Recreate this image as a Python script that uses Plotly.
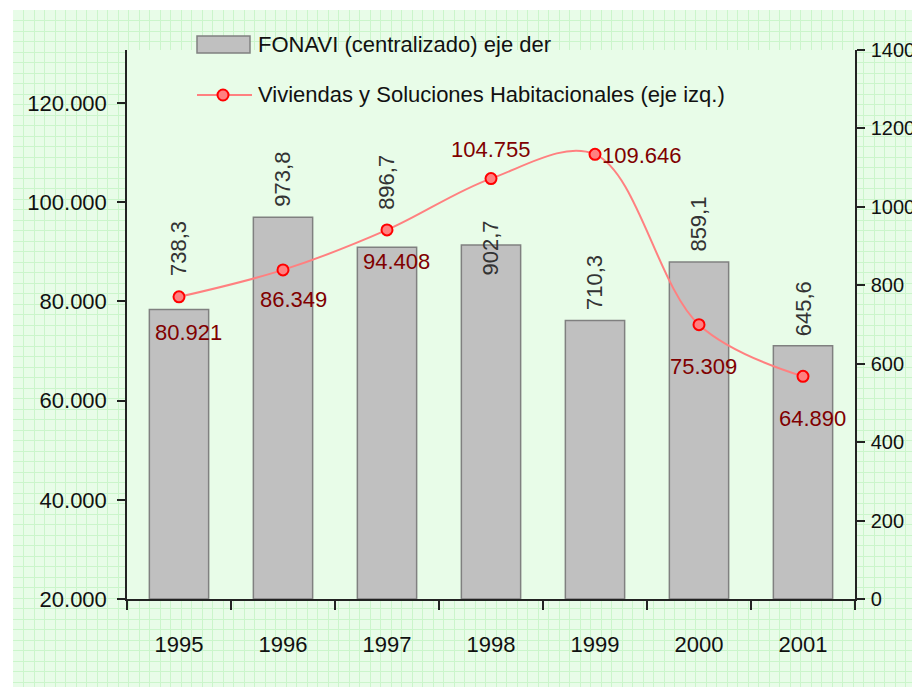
import plotly.graph_objects as go

# ---------------- data ----------------
years = ["1995", "1996", "1997", "1998", "1999", "2000", "2001"]
fonavi = [738.3, 973.8, 896.7, 902.7, 710.3, 859.1, 645.6]          # right axis (bars)
viviendas = [80921, 86349, 94408, 104755, 109646, 75309, 64890]    # left axis (line)
left_ticks = [20000, 40000, 60000, 80000, 100000, 120000]
right_ticks = [0, 200, 400, 600, 800, 1000, 1200, 1400]
legend_bar = "FONAVI (centralizado) eje der"
legend_line = "Viviendas y Soluciones Habitacionales (eje izq.)"

# ---------------- style ----------------
FONT = "Liberation Sans"
FS = 22
W, H = 920, 687
OFF = 8                      # page body margin offset
ML, MT = 13 - OFF, 10 - OFF
PW, PH = W - ML, H - MT
BG = "#E8FCE8"
GRID = "#CBF5CB"
BAR_FILL = "#C0C0C0"
BAR_LINE = "#808080"
LINE_C = "#FF8080"
MARK_LINE = "#FF0000"
LBL_RED = "#800000"

def px(x):
    # screen x -> paper fraction
    return (x - OFF - ML) / PW

def py(y):
    # screen y -> paper fraction
    return (H - (y - OFF)) / PH

x_dom = [px(127), px(855)]
y_dom = [py(599), py(50)]

# label offsets (pixels)
bar_lbl_shift = [31, 8, 35, -33, 8, 8, 7]
line_lbl_dx = [9, 10, 9, 0, 5, 4, 9]
line_lbl_dy = [-36, -30, -32, 29, -1, -42, -42]
line_lbl_xanchor = ["center", "center", "center", "center", "left", "center", "center"]

fig = go.Figure()

# empty trace so the background grid subplot exists (drawn first, underneath)
fig.add_trace(go.Scatter(x=[], y=[], xaxis="x", yaxis="y", showlegend=False, hoverinfo="skip"))

# bars on right axis (y2 base), line on left axis (y3 overlay, drawn on top)
fig.add_trace(go.Bar(
    x=years, y=fonavi, xaxis="x2", yaxis="y2",
    width=0.57,
    marker=dict(color=BAR_FILL, line=dict(color=BAR_LINE, width=1.5)),
    name=legend_bar, showlegend=False, hoverinfo="x+y",
))
fig.add_trace(go.Scatter(
    x=years, y=viviendas, xaxis="x2", yaxis="y3",
    mode="lines+markers",
    line=dict(color=LINE_C, width=2, shape="spline", smoothing=1),
    marker=dict(size=11, color=LINE_C, line=dict(color=MARK_LINE, width=2)),
    name=legend_line, showlegend=False,
))

annotations = []
for i, v in enumerate(fonavi):
    annotations.append(dict(
        x=i, y=v, xref="x2", yref="y2",
        text=f"{v:.1f}".replace(".", ","),
        textangle=-90, showarrow=False,
        xanchor="center", yanchor="bottom", yshift=bar_lbl_shift[i],
        font=dict(family=FONT, size=FS, color="#333333"),
    ))
for i, v in enumerate(viviendas):
    annotations.append(dict(
        x=i, y=v, xref="x2", yref="y3",
        text=f"{v:,}".replace(",", "."),
        showarrow=False,
        xanchor=line_lbl_xanchor[i], yanchor="middle",
        xshift=line_lbl_dx[i], yshift=line_lbl_dy[i],
        font=dict(family=FONT, size=FS, color=LBL_RED),
    ))
# legend texts
annotations.append(dict(x=px(256), y=py(44), xref="paper", yref="paper", text=legend_bar,
                        showarrow=False, xanchor="left", yanchor="middle",
                        font=dict(family=FONT, size=FS, color="#111111")))
annotations.append(dict(x=px(256), y=py(94), xref="paper", yref="paper", text=legend_line,
                        showarrow=False, xanchor="left", yanchor="middle",
                        font=dict(family=FONT, size=FS, color="#111111")))

shapes = [
    dict(type="rect", xref="paper", yref="paper", x0=px(197), x1=px(250), y0=py(53), y1=py(36),
         fillcolor=BAR_FILL, line=dict(color=BAR_LINE, width=1.5), layer="above"),
    dict(type="line", xref="paper", yref="paper", x0=px(197), x1=px(252), y0=py(95), y1=py(95),
         line=dict(color=LINE_C, width=2), layer="above"),
    dict(type="circle", xref="paper", yref="paper", x0=px(217.5), x1=px(228.5), y0=py(100.5), y1=py(89.5),
         fillcolor=LINE_C, line=dict(color=MARK_LINE, width=2), layer="above"),
]

fig.update_layout(
    width=W, height=H,
    margin=dict(l=ML, r=0, t=MT, b=0, pad=0, autoexpand=False),
    paper_bgcolor="white",
    plot_bgcolor=BG,
    separators=",.",
    font=dict(family=FONT, size=FS, color="#111111"),
    showlegend=False,
    # background grid subplot (screen pixel coordinates)
    xaxis=dict(domain=[0, 1], anchor="y", range=[13, 13 + PW], showgrid=True, gridcolor=GRID,
               gridwidth=1, tick0=13, dtick=10.5, showticklabels=False, zeroline=False,
               showline=False, ticks="", fixedrange=True),
    yaxis=dict(domain=[0, 1], anchor="x", range=[10 + PH, 10], showgrid=True, gridcolor=GRID,
               gridwidth=1, tick0=10, dtick=10.5, showticklabels=False, zeroline=False,
               showline=False, ticks="", fixedrange=True),
    xaxis2=dict(domain=x_dom, anchor="y2", type="category", categoryorder="array",
                categoryarray=years, range=[-0.5, 6.5],
                showline=True, linecolor="#222222", linewidth=1.5,
                ticks="outside", tickson="boundaries", ticklen=9, tickcolor="#222222",
                tickwidth=1.5, ticklabelstandoff=25, showgrid=False, zeroline=False,
                tickfont=dict(family=FONT, size=FS, color="#111111")),
    yaxis2=dict(domain=y_dom, anchor="x2", side="right", range=[0, 1400],
                tickvals=right_ticks, tickformat="d",
                showline=True, linecolor="#222222", linewidth=1.5,
                ticks="outside", ticklen=8, tickcolor="#222222", tickwidth=1.5,
                ticklabelstandoff=2, showgrid=False, zeroline=False,
                tickfont=dict(family=FONT, size=20, color="#111111")),
    yaxis3=dict(overlaying="y2", anchor="x2", side="left",
                range=[20000, 20000 + 549 / 496 * 100000],
                tickvals=left_ticks, tickformat=",d",
                showline=True, linecolor="#222222", linewidth=1.5,
                ticks="outside", ticklen=8, tickcolor="#222222", tickwidth=1.5,
                ticklabelstandoff=6, showgrid=False, zeroline=False,
                tickfont=dict(family=FONT, size=FS, color="#111111")),
    annotations=annotations,
    shapes=shapes,
)

fig.write_html("out.html")
